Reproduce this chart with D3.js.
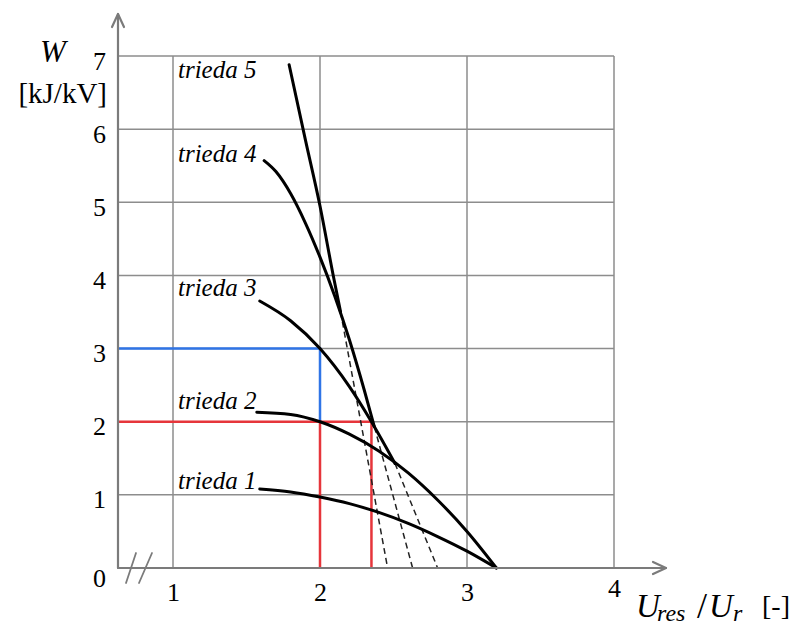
<!DOCTYPE html>
<html>
<head>
<meta charset="utf-8">
<script src="https://cdn.jsdelivr.net/npm/d3@7"></script>
<style>
  body { margin: 0; background: #fff; }
  text { font-family: "Liberation Serif", "DejaVu Serif", serif; fill: #000; }
</style>
</head>
<body>
<svg id="chart" width="793" height="628"></svg>
<script>
// ---- data -------------------------------------------------------------
const classNames = ["trieda 1", "trieda 2", "trieda 3", "trieda 4", "trieda 5"];
const xTicks = [1, 2, 3, 4];
const yTicks = [0, 1, 2, 3, 4, 5, 6, 7];

// solid part of each class curve: [Ures/Ur, W in kJ/kV]
const trieda1 = [[1.59, 1.08], [1.8, 1.04], [2.0, 0.97], [2.2, 0.88], [2.4, 0.76],
                 [2.6, 0.61], [2.8, 0.43], [3.0, 0.23], [3.2, 0]];
const trieda2 = [[1.57, 2.13], [1.8, 2.10], [2.0, 2.0], [2.2, 1.83], [2.4, 1.60],
                 [2.6, 1.30], [2.8, 0.93], [3.0, 0.50], [3.2, 0]];
const trieda3 = [[1.59, 3.65], [1.8, 3.38], [2.0, 3.0], [2.2, 2.48], [2.35, 2.0], [2.51, 1.43]];
const trieda4 = [[1.62, 5.57], [1.7, 5.42], [1.8, 5.12], [1.9, 4.72], [2.0, 4.25],
                 [2.1, 3.72], [2.2, 3.12], [2.3, 2.44], [2.37, 1.93]];
const trieda5 = [[1.79, 6.88], [1.9, 5.86], [2.0, 4.95], [2.09, 4.0], [2.14, 3.5]];

// dashed continuations down to W = 0
const trieda3Dash = [[2.51, 1.43], [2.80, 0]];
const trieda4Dash = [[2.37, 1.93], [2.63, 0]];
const trieda5Dash = [[2.14, 3.5], [2.46, 0]];

// reading guides: W = 3 at Ures/Ur = 2, W = 2 at Ures/Ur = 2 and 2.35
const bluePoint = [2, 3];
const redPoints = [[2, 2], [2.35, 2]];

// ---- layout -----------------------------------------------------------
const svg = d3.select("#chart");
svg.append("rect").attr("width", 793).attr("height", 628).attr("fill", "#fff");

const x = d3.scaleLinear().domain([1, 4]).range([173, 614]);
const y = d3.scaleLinear().domain([0, 7]).range([568, 56]);
const x0 = 118;                 // position of the (broken) vertical axis
const xMin = x.invert(x0);
const serif = '"Liberation Serif", "DejaVu Serif", serif';

const gridColor = "#8d8d8d";
const axisColor = "#7b7b7b";

// grid
const grid = svg.append("g").attr("stroke", gridColor).attr("stroke-width", 1.5);
grid.selectAll("line.v").data(xTicks).join("line")
  .attr("x1", d => x(d)).attr("x2", d => x(d))
  .attr("y1", y(0)).attr("y2", y(7));
grid.selectAll("line.h").data(yTicks.filter(d => d > 0)).join("line")
  .attr("x1", x0).attr("x2", x(4))
  .attr("y1", d => y(d)).attr("y2", d => y(d));

// guides
svg.append("path")
  .attr("d", `M${x(xMin)},${y(bluePoint[1])}H${x(bluePoint[0])}V${y(redPoints[0][1])}`)
  .attr("fill", "none").attr("stroke", "#2f74e6").attr("stroke-width", 2.5);
const redPath = d3.path();
redPath.moveTo(x(xMin), y(redPoints[1][1]));
redPath.lineTo(x(redPoints[1][0]), y(redPoints[1][1]));
redPath.lineTo(x(redPoints[1][0]), y(0));
redPath.moveTo(x(redPoints[0][0]), y(redPoints[0][1]));
redPath.lineTo(x(redPoints[0][0]), y(0));
svg.append("path").attr("d", redPath.toString())
  .attr("fill", "none").attr("stroke", "#e6353b").attr("stroke-width", 2.5);

// curves
const line = d3.line().x(d => x(d[0])).y(d => y(d[1])).curve(d3.curveMonotoneX);
const straight = d3.line().x(d => x(d[0])).y(d => y(d[1]));

[trieda3Dash, trieda4Dash, trieda5Dash].forEach(seg => {
  svg.append("path").attr("d", straight(seg))
    .attr("fill", "none").attr("stroke", "#222").attr("stroke-width", 1.5)
    .attr("stroke-dasharray", "6,4");
});
[trieda1, trieda2, trieda3, trieda4, trieda5].forEach(c => {
  svg.append("path").attr("d", line(c))
    .attr("fill", "none").attr("stroke", "#000").attr("stroke-width", 3)
    .attr("stroke-linecap", "round");
});

// class labels
const labelBaselines = [489, 409, 296, 162, 78];
svg.append("g").selectAll("text").data(classNames).join("text")
  .attr("x", 178).attr("y", (d, i) => labelBaselines[i])
  .style("font-family", serif)
  .attr("font-size", 25).attr("font-style", "italic")
  .text(d => d);

// axes lines with open arrowheads
const axes = svg.append("g").attr("stroke", axisColor).attr("stroke-width", 2.2)
  .attr("fill", "none").attr("stroke-linecap", "round").attr("stroke-linejoin", "round");
axes.append("path").attr("d", `M${x0},${y(0)}V14`);
axes.append("path").attr("d", `M${x0 - 6},27L${x0},14L${x0 + 6},27`);
axes.append("path").attr("d", `M${x0},${y(0)}H666`);
axes.append("path").attr("d", `M653,${y(0) - 6}L666,${y(0)}L653,${y(0) + 6}`);
// axis break marks
axes.append("path").attr("d", `M126,583L136,553M139,583L152,553`).attr("stroke-width", 1.8);

// tick labels
const gx = svg.append("g").attr("transform", `translate(0,${y(0)})`)
  .call(d3.axisBottom(x).tickValues(xTicks).tickSize(0).tickPadding(15).tickFormat(d3.format("d")));
gx.select(".domain").remove();
gx.selectAll("text").attr("font-size", 26).style("font-family", serif).attr("fill", "#000")
  .attr("dy", d => d === 4 ? "0.55em" : "0.71em");

const gy = svg.append("g").attr("transform", `translate(${x0},0)`)
  .call(d3.axisLeft(y).tickValues(yTicks).tickSize(0).tickPadding(12).tickFormat(d3.format("d")));
gy.select(".domain").remove();
gy.selectAll("text").attr("font-size", 26).style("font-family", serif).attr("fill", "#000")
  .attr("dy", d => d === 0 ? "0.7em" : "0.5em");

// axis titles
svg.append("text").attr("x", 53).attr("y", 62).attr("text-anchor", "middle")
  .attr("font-size", 31).attr("font-style", "italic").text("W");
svg.append("text").attr("x", 107).attr("y", 103).attr("text-anchor", "end")
  .attr("font-size", 29).text("[kJ/kV]");

const title = svg.append("g");
title.append("text").attr("x", 636).attr("y", 617).attr("font-size", 33)
  .attr("font-style", "italic").text("U");
title.append("text").attr("x", 657).attr("y", 621).attr("font-size", 24)
  .attr("font-style", "italic").text("res");
title.append("text").attr("x", 697).attr("y", 618).attr("font-size", 36).text("/");
title.append("text").attr("x", 709).attr("y", 617).attr("font-size", 33)
  .attr("font-style", "italic").text("U");
title.append("text").attr("x", 733).attr("y", 621).attr("font-size", 24)
  .attr("font-style", "italic").text("r");
title.append("text").attr("x", 762).attr("y", 615).attr("font-size", 28).text("[-]");
</script>
</body>
</html>
